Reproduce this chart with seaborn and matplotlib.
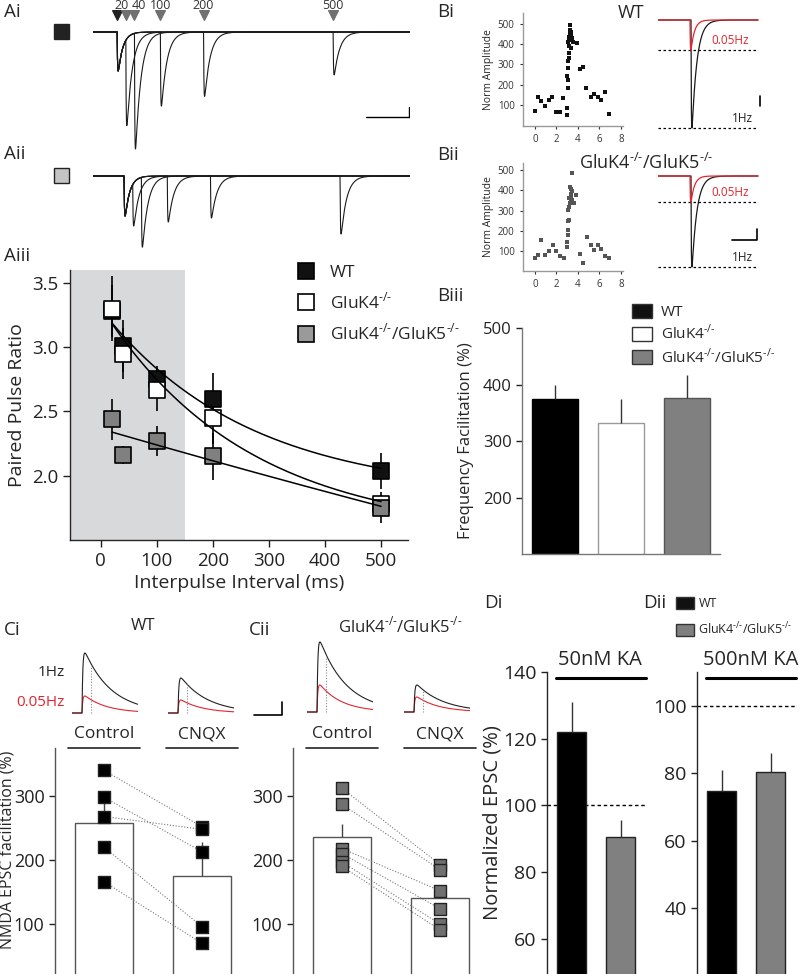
import numpy as np
import pandas as pd
import matplotlib
matplotlib.use("Agg")
import matplotlib.pyplot as plt
from matplotlib.lines import Line2D
from matplotlib.patches import Patch, Rectangle
import seaborn as sns

# ------------------------------------------------------------------
# data
# ------------------------------------------------------------------
PPR_INTERVAL = [20, 40, 100, 200, 500]
PPR_WT = [3.28, 3.01, 2.75, 2.60, 2.04]
PPR_WT_SEM = [0.20, 0.20, 0.10, 0.20, 0.14]
PPR_K4 = [3.30, 2.95, 2.67, 2.45, 1.78]
PPR_K4_SEM = [0.25, 0.20, 0.17, 0.20, 0.07]
PPR_K45 = [2.44, 2.16, 2.27, 2.15, 1.75]
PPR_K45_SEM = [0.16, 0.07, 0.12, 0.18, 0.12]

# example traces (second EPSC depth, relative to first EPSC)
AI_DEPTH = [2.4, 3.0, 1.9, 1.65, 1.1]
AII_DEPTH = [1.25, 1.78, 1.15, 1.05, 1.45]

# frequency jump scatter (time in min, normalised amplitude)
BI_X = [0.0, 0.31, 0.62, 0.93, 1.33, 1.64, 2.0, 2.33, 2.64, 2.98, 2.98, 3.04, 2.98, 3.04,
        3.1, 3.16, 3.19, 3.22, 3.26, 3.3, 3.3, 3.4, 3.5, 3.4, 3.55, 3.2, 3.1, 3.88, 4.19,
        4.5, 4.8, 5.18, 5.5, 5.9, 6.2, 6.5, 6.88, 3.1, 3.19, 3.28, 3.32, 3.24, 3.36]
BI_Y = [69, 139, 118, 97, 126, 139, 66, 66, 133, 52, 85, 184, 244, 282,
        315, 356, 389, 421, 454, 470, 495, 446, 430, 380, 413, 437, 413, 408, 277,
        287, 184, 139, 156, 138, 126, 162, 56, 225, 331, 445, 458, 462, 440]
BII_X = [0.0, 0.31, 0.62, 0.96, 1.33, 1.67, 1.95, 2.36, 2.67, 3.0, 3.0, 3.07, 3.07, 3.13,
         3.2, 3.1, 3.16, 3.26, 3.32, 3.35, 3.35, 3.41, 3.29, 3.5, 3.5, 3.66, 3.85, 4.2,
         4.5, 4.84, 5.2, 5.5, 5.83, 6.14, 6.54, 6.9, 3.22, 3.45]
BII_Y = [67, 82, 153, 82, 100, 128, 100, 74, 65, 120, 145, 178, 202, 247,
         252, 302, 318, 335, 351, 368, 384, 404, 414, 487, 351, 335, 379, 87,
         42, 169, 128, 103, 131, 108, 74, 65, 360, 395]

# frequency facilitation bars
FF_GROUPS = ["WT", "GluK4", "GluK4/GluK5"]
FF_MEAN = [375, 331, 376]
FF_SEM = [25, 43, 41]

# NMDA EPSC facilitation
CI_CONTROL = [340, 298, 268, 220, 166]
CI_CNQX = [252, 213, 248, 96, 70]
CII_CONTROL = [312, 287, 218, 210, 197, 190]
CII_CNQX = [193, 185, 152, 124, 100, 91]
CI_SEM = [30, 52]
CII_SEM = [20, 14]

# kainate
D_GROUPS = ["WT", "GluK4/GluK5"]
DI_MEAN = [122, 90.6]
DI_SEM = [9, 5]
DII_MEAN = [74.6, 80.4]
DII_SEM = [6.5, 5.7]

# NMDA trace peaks (black = 1Hz, red = 0.05Hz)
CI_TRACE = {"Control": (60, 17), "CNQX": (35, 13)}
CII_TRACE = {"Control": (70, 27), "CNQX": (27, 15)}

RED = "#e3262f"
GREY = "#808080"
sup = r"$^{\text{-/-}}$"
K4 = "GluK4" + sup
K45 = "GluK4" + sup + "/GluK5" + sup

sns.set_style("ticks")
plt.rcParams["font.family"] = ["Open Sans", "DejaVu Sans"]
plt.rcParams["mathtext.fontset"] = "custom"
plt.rcParams["mathtext.rm"] = "Open Sans"
plt.rcParams["axes.linewidth"] = 1.0
plt.rcParams["xtick.major.width"] = 1.0
plt.rcParams["ytick.major.width"] = 1.0

W, H = 800, 974
fig = plt.figure(figsize=(W / 100, H / 100), dpi=100)


def box(x0, y0, x1, y1):
    return fig.add_axes([x0 / W, 1 - y1 / H, (x1 - x0) / W, (y1 - y0) / H])


def ftext(x, y, s, **kw):
    kw.setdefault("va", "center")
    fig.text(x / W, 1 - y / H, s, **kw)


def fsquare(x, y, size, color):
    fig.add_artist(Rectangle((x / W, 1 - (y + size) / H), size / W, size / H,
                             transform=fig.transFigure, facecolor=color,
                             edgecolor="#222222", lw=1))


def epsc(t, onset, amp, tau_r, tau_d):
    s = np.clip(t - onset, 0, None)
    tp = tau_r * tau_d / (tau_d - tau_r) * np.log(tau_d / tau_r)
    peak = np.exp(-tp / tau_d) - np.exp(-tp / tau_r)
    return amp * (np.exp(-s / tau_d) - np.exp(-s / tau_r)) / peak


def fit_exp(x, y):
    x = np.asarray(x, float)
    y = np.asarray(y, float)
    best = None
    for tau in np.linspace(20, 5000, 1000):
        M = np.column_stack([np.exp(-x / tau), np.ones_like(x)])
        coef = np.linalg.lstsq(M, y, rcond=None)[0]
        err = np.sum((M @ coef - y) ** 2)
        if best is None or err < best[0]:
            best = (err, tau, coef)
    return best[1], best[2]


# ------------------------------------------------------------------
# Ai / Aii traces
# ------------------------------------------------------------------
def pp_traces(ax, depths, onset, unit_top, unit_bot):
    t = np.linspace(-56, 678, 4000)
    tr, td = 0.8, 11.0
    tp = tr * td / (td - tr) * np.log(td / tr)
    for dt, d2 in zip(PPR_INTERVAL, depths):
        resid = epsc(np.array([onset + dt + tp]), onset, 1.0, tr, td)[0]
        y = -(epsc(t, onset, 1.0, tr, td) + epsc(t, onset + dt, d2 - resid, tr, 13.0))
        sns.lineplot(x=t, y=y, ax=ax, color="#1a1a1a", lw=0.8, estimator=None)
    ax.set_xlim(-56, 678)
    ax.set_ylim(unit_bot, unit_top)
    ax.axis("off")


ax = box(93, 0, 410, 160)
pp_traces(ax, AI_DEPTH, 0, 32 / 39, -128 / 39)
ax.scatter([0], [0.44], marker="v", s=48, color="#222222", clip_on=False)
ax.scatter(PPR_INTERVAL, [0.44] * 5, marker="v", s=48, color="#707070", clip_on=False)
for x, dx in zip(PPR_INTERVAL, [-3, 3, 0, 0, 0]):
    ax.annotate(str(x), (x, 0.69), xytext=(dx, 0), textcoords="offset points",
                ha="center", va="center", fontsize=9, color="#333333")
ax.plot([576, 676], [-2.18, -2.18], color="k", lw=1)
ax.plot([676, 676], [-2.18, -1.92], color="k", lw=1)

ax = box(93, 160, 410, 260)
pp_traces(ax, AII_DEPTH, 16, 16 / 40, -84 / 40)

fsquare(54, 24, 15, "#222222")
fsquare(54, 168, 15, "#c4c4c4")

# ------------------------------------------------------------------
# Aiii paired pulse ratio
# ------------------------------------------------------------------
ax = box(70, 270, 408, 540)
ax.axvspan(-55, 150, color="#d8d9da", lw=0, zorder=0)
series = [(PPR_WT, PPR_WT_SEM, "#111111"), (PPR_K4, PPR_K4_SEM, "white"),
          (PPR_K45, PPR_K45_SEM, GREY)]
for vals, sem, col in series:
    ax.errorbar(PPR_INTERVAL, vals, yerr=sem, fmt="none", ecolor="k", elinewidth=1.2, zorder=2)
for vals, sem, col in series:
    df = pd.DataFrame({"x": PPR_INTERVAL, "y": vals})
    sns.scatterplot(data=df, x="x", y="y", ax=ax, marker="s", s=125, color=col,
                    edgecolor="k", linewidth=1.2, zorder=3)
xf = np.linspace(20, 500, 200)
for vals, sem, col in series:
    tau, (a, c) = fit_exp(PPR_INTERVAL, vals)
    ax.plot(xf, a * np.exp(-xf / tau) + c, color="k", lw=1.1, zorder=4)
ax.set_xlim(-55, 548)
ax.set_ylim(1.5, 3.6)
ax.set_xticks([0, 100, 200, 300, 400, 500])
ax.set_yticks([2.0, 2.5, 3.0, 3.5])
ax.tick_params(labelsize=13.5, length=5, colors="#222222")
ax.set_xlabel("Interpulse Interval (ms)", fontsize=14, labelpad=3)
ax.set_ylabel("Paired Pulse Ratio", fontsize=14, labelpad=4)
sns.despine(ax=ax)
handles = [Line2D([], [], marker="s", ls="none", ms=11, mfc=c, mec="k", mew=1.2)
           for c in ["#111111", "white", "#9a9a9a"]]
ax.legend(handles, ["WT", K4, K45], loc="upper left", bbox_to_anchor=(297 / W, 1 - 265 / H),
          bbox_transform=fig.transFigure, frameon=False, fontsize=12.5, handlelength=1.0,
          handletextpad=0.9, labelspacing=0.62, borderpad=0, borderaxespad=0)

# ------------------------------------------------------------------
# Bi / Bii scatter + traces
# ------------------------------------------------------------------
def freq_scatter(ax, xs, ys, col, ylim):
    df = pd.DataFrame({"t": xs, "amp": ys})
    sns.scatterplot(data=df, x="t", y="amp", ax=ax, marker="s", s=6, color=col, linewidth=0)
    ax.set_xlim(-1.1, 8.2)
    ax.set_ylim(*ylim)
    ax.set_xticks([0, 2, 4, 6, 8])
    ax.set_yticks([100, 200, 300, 400, 500])
    ax.tick_params(labelsize=7, length=2.5, colors="#333333", width=0.8)
    for sp in ["left", "bottom"]:
        ax.spines[sp].set_color("#999999")
    ax.set_xlabel("")
    ax.set_ylabel("Norm Amplitude", fontsize=7.5, labelpad=3)
    sns.despine(ax=ax)


def freq_trace(ax, black, ylims):
    t = np.linspace(0, 104, 2000)
    yb = -epsc(t, 33, black, 0.3, 5.0)
    yr = -epsc(t, 32, 1.0, 0.3, 3.5)
    ax.axhline(-1, color="k", lw=0.9, ls=(0, (2, 2)), xmax=100 / 104)
    ax.axhline(-black, color="k", lw=0.9, ls=(0, (2, 2)), xmax=100 / 104)
    sns.lineplot(x=t[t <= 100], y=yb[t <= 100], ax=ax, color="#1a1a1a", lw=0.9, estimator=None)
    sns.lineplot(x=t[t <= 100], y=yr[t <= 100], ax=ax, color=RED, lw=0.9, estimator=None)
    ax.set_xlim(0, 104)
    ax.set_ylim(*ylims)
    ax.axis("off")


ax = box(523, 13, 623, 126)
freq_scatter(ax, BI_X, BI_Y, "#111111", (-4, 554))
ax = box(658, 12, 762, 135)
freq_trace(ax, 3.6, (-115 / 30, 8 / 30))
ax.text(72, -0.67, "0.05Hz", color=RED, fontsize=8.5, ha="center", va="center")
ax.text(84, -3.27, "1Hz", color="#222222", fontsize=8.5, ha="center", va="center")
ax.plot([102, 102], [-2.55, -2.87], color="k", lw=1.2)
ftext(631, 13, "WT", fontsize=13, ha="center")

ax = box(523, 163, 623, 271)
freq_scatter(ax, BII_X, BII_Y, "#555555", (1, 535))
ax = box(658, 165, 762, 272)
freq_trace(ax, 3.5, (-96 / 26, 11 / 26))
ax.text(72, -0.62, "0.05Hz", color=RED, fontsize=8.5, ha="center", va="center")
ax.text(84, -3.15, "1Hz", color="#222222", fontsize=8.5, ha="center", va="center")
ax.plot([74, 99, 99], [-2.46, -2.46, -2.04], color="k", lw=1.2)
ftext(646, 163, K45, fontsize=13, ha="center")

# ------------------------------------------------------------------
# Biii frequency facilitation
# ------------------------------------------------------------------
ax = box(522, 328, 720, 554)
ff = pd.DataFrame({"group": FF_GROUPS, "mean": FF_MEAN})
sns.barplot(data=ff, x="group", y="mean", hue="group", ax=ax, width=0.7, legend=False,
            palette=["#000000", "#ffffff", "#808080"])
for p, ec in zip(ax.patches, ["#000000", "#9a9a9a", "#555555"]):
    p.set_edgecolor(ec)
    p.set_linewidth(1)
ax.errorbar(range(3), FF_MEAN, yerr=[[0] * 3, FF_SEM], fmt="none", ecolor="#333333", elinewidth=1)
ax.set_xlim(-0.5, 2.5)
ax.set_ylim(100, 500)
ax.set_yticks([200, 300, 400, 500])
ax.set_xticks([])
ax.set_xlabel("")
ax.set_ylabel("Frequency Facilitation (%)", fontsize=12, labelpad=6)
ax.tick_params(labelsize=12, length=4, colors="#222222")
for sp in ["left", "bottom"]:
    ax.spines[sp].set_color("#777777")
sns.despine(ax=ax)
ax.legend([Patch(fc="#111111", ec="#333333"), Patch(fc="white", ec="#333333"),
           Patch(fc="#808080", ec="#333333")], ["WT", K4, K45],
          loc="upper left", bbox_to_anchor=(632 / W, 1 - 304 / H), bbox_transform=fig.transFigure,
          frameon=False, fontsize=11, handlelength=1.3, handleheight=1.05, handletextpad=0.6,
          labelspacing=0.25, borderpad=0, borderaxespad=0)

# ------------------------------------------------------------------
# Ci / Cii NMDA traces + paired bars
# ------------------------------------------------------------------
def nmda_trace(ax, black, red):
    t = np.linspace(0, 66, 800)
    yb = epsc(t, 10, black, 0.8, 27)
    yr = epsc(t, 10, red, 0.8, 22)
    sns.lineplot(x=t, y=yr, ax=ax, color=RED, lw=0.8, estimator=None)
    sns.lineplot(x=t, y=yb, ax=ax, color="#222222", lw=0.8, estimator=None)
    tm = 19.0
    ax.plot([tm, tm], [0, epsc(np.array([tm]), 10, black, 0.8, 27)[0]],
            color="#888888", lw=0.8, ls=(0, (1, 1.5)))
    ax.set_xlim(0, 66)
    ax.set_ylim(-3, 78)
    ax.axis("off")


def paired_bars(ax, ctrl, cnqx, sem, col):
    df = pd.DataFrame({"cond": ["Control", "CNQX"], "val": [np.mean(ctrl), np.mean(cnqx)]})
    sns.barplot(data=df, x="cond", y="val", ax=ax, color="white", width=0.6,
                edgecolor="#555555", linewidth=1)
    ax.errorbar([0, 1], df["val"], yerr=[[0, 0], sem], fmt="none", ecolor="#444444", elinewidth=1)
    for a, b in zip(ctrl, cnqx):
        ax.plot([0, 1], [a, b], color="#777777", lw=0.8, ls=(0, (1, 1.6)), zorder=3)
    pts = pd.DataFrame({"x": [0] * len(ctrl) + [1] * len(cnqx), "y": list(ctrl) + list(cnqx)})
    sns.scatterplot(data=pts, x="x", y="y", ax=ax, marker="s", s=75, color=col,
                    edgecolor="#222222", linewidth=1, zorder=4)
    ax.set_xlim(-0.5, 1.5)
    ax.set_ylim(22, 375)
    ax.set_xticks([])
    ax.set_yticks([100, 200, 300])
    ax.set_xlabel("")
    ax.tick_params(labelsize=13, length=4, colors="#222222")
    ax.spines["left"].set_color("#555555")
    sns.despine(ax=ax, bottom=True)
    for i, name in enumerate(["Control", "CNQX"]):
        ax.plot([i - 0.37, i + 0.37], [375, 375], color="#222222", lw=1.2, clip_on=False)
        ax.annotate(name, (i, 375), xytext=(0, 4), textcoords="offset points",
                    ha="center", va="bottom", fontsize=12.5, annotation_clip=False)


ax = box(55, 748, 251, 974)
paired_bars(ax, CI_CONTROL, CI_CNQX, CI_SEM, "#000000")
ax.set_ylabel("NMDA EPSC facilitation (%)", fontsize=11.5)
ax.yaxis.set_label_coords(-0.2, 0.55)
ax = box(293, 748, 489, 974)
paired_bars(ax, CII_CONTROL, CII_CNQX, CII_SEM, "#707070")
ax.set_ylabel("")

for x0, key, pk in [(72, "Control", CI_TRACE), (168, "CNQX", CI_TRACE),
                    (307, "Control", CII_TRACE), (404, "CNQX", CII_TRACE)]:
    base = 713 if pk is CI_TRACE else 712
    ax = box(x0, base - 78, x0 + 66, base + 3)
    nmda_trace(ax, *pk[key])
    if x0 == 307:
        ax.plot([-53, -25, -25], [-3, -3, 10], color="k", lw=1.2, clip_on=False)

ftext(65, 672, "1Hz", fontsize=11, ha="right")
ftext(65, 703, "0.05Hz", fontsize=11, ha="right", color=RED)
ftext(143, 626, "WT", fontsize=12, ha="center")
ftext(400, 626, K45, fontsize=12, ha="center")

# ------------------------------------------------------------------
# Di / Dii kainate
# ------------------------------------------------------------------
def ka_bars(ax, means, sems, ylim, ticks, label, ly):
    df = pd.DataFrame({"group": D_GROUPS, "val": means})
    sns.barplot(data=df, x="group", y="val", hue="group", ax=ax, width=0.6, legend=False,
                palette=["#000000", "#808080"], edgecolor="#222222", linewidth=1)
    ax.errorbar([0, 1], means, yerr=[[0, 0], sems], fmt="none", ecolor="#333333", elinewidth=1)
    ax.axhline(100, color="k", lw=1, ls=(0, (2.5, 2)), zorder=0.5)
    ax.set_xlim(-0.5, 1.5)
    ax.set_ylim(*ylim)
    ax.set_yticks(ticks)
    ax.set_xticks([])
    ax.set_xlabel("")
    ax.set_ylabel("")
    ax.tick_params(labelsize=14, length=4, colors="#222222")
    sns.despine(ax=ax, bottom=True)
    ax.plot([-0.31, 1.52], [ly, ly], color="k", lw=2.2, clip_on=False)
    ax.annotate(label, (0.59, ly), xytext=(0, 6), textcoords="offset points",
                ha="center", va="bottom", fontsize=14.5, annotation_clip=False)


ax = box(547, 672, 645, 974)
ka_bars(ax, DI_MEAN, DI_SEM, (49.5, 140), [60, 80, 100, 120, 140], "50nM KA", 138.2)
ax.set_ylabel("Normalized EPSC (%)", fontsize=14.5, labelpad=0)
ax = box(697, 672, 795, 974)
ka_bars(ax, DII_MEAN, DII_SEM, (20.5, 110), [40, 60, 80, 100], "500nM KA", 108.2)
ax.legend([Patch(fc="#111111", ec="#333333"), Patch(fc="#808080", ec="#333333")],
          ["WT", K45], loc="upper left", bbox_to_anchor=(676 / W, 1 - 597 / H),
          bbox_transform=fig.transFigure, frameon=False, fontsize=9, handlelength=1.4,
          handleheight=1.1, handletextpad=0.4, labelspacing=0.85, borderpad=0, borderaxespad=0)

# panel letters
for s, x, y in [("Ai", 4, 12), ("Aii", 4, 154), ("Aiii", 4, 256), ("Bi", 437, 12),
                ("Bii", 437, 155), ("Biii", 437, 296), ("Ci", 4, 630), ("Cii", 249, 630),
                ("Di", 484, 603), ("Dii", 643, 603)]:
    ftext(x, y, s, fontsize=13.5, ha="left")

fig.savefig("out.png", dpi=100)
